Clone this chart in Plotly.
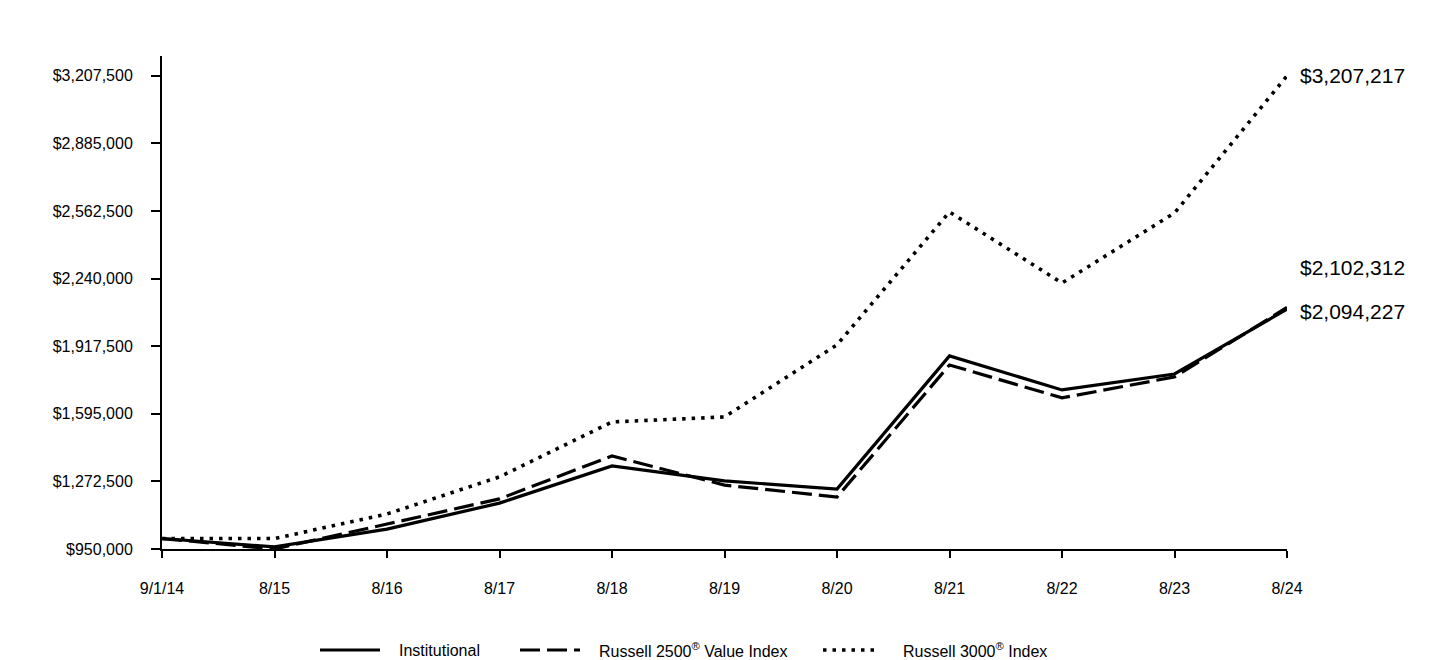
import plotly.graph_objects as go

categories = ["9/1/14", "8/15", "8/16", "8/17", "8/18", "8/19", "8/20", "8/21", "8/22", "8/23", "8/24"]
institutional = [1000000, 960000, 1045000, 1169000, 1346000, 1275000, 1236000, 1871000, 1709000, 1785000, 2094227]
russell2500v = [1000000, 950000, 1069000, 1189000, 1394000, 1255000, 1198000, 1828000, 1671000, 1771000, 2102312]
russell3000 = [1000000, 1000000, 1117000, 1294000, 1556000, 1580000, 1924000, 2558000, 2219000, 2553000, 3207217]
y_ticks = [950000, 1272500, 1595000, 1917500, 2240000, 2562500, 2885000, 3207500]
series_names = ["Institutional", "Russell 2500<sup>®</sup> Value Index", "Russell 3000<sup>®</sup> Index"]

FONT = "Liberation Sans, Arial, sans-serif"
xs = list(range(len(categories)))

styles = [
    dict(color="black", width=3.2, dash="solid"),
    dict(color="black", width=3.2, dash="20px,7px"),
    dict(color="black", width=3.6, dash="3.5px,6px"),
]
data = [institutional, russell2500v, russell3000]

fig = go.Figure()
for name, ys, st in zip(series_names, data, styles):
    fig.add_trace(go.Scatter(x=xs, y=ys, mode="lines", name=name, line=st,
                             showlegend=False, hoverinfo="x+y+name"))

# end labels
fig.add_annotation(x=10, y=russell3000[-1], text="$3,207,217", showarrow=False,
                   xanchor="left", xshift=11, font=dict(size=21, color="black", family=FONT))
fig.add_annotation(x=10, y=russell2500v[-1], text="$2,102,312", showarrow=False,
                   xanchor="left", xshift=11, yshift=40, font=dict(size=21, color="black", family=FONT))
fig.add_annotation(x=10, y=institutional[-1], text="$2,094,227", showarrow=False,
                   xanchor="left", xshift=11, yshift=-2, font=dict(size=21, color="black", family=FONT))

# manual legend (figure pixel coords converted to paper coords)
L0, PW, B0, PH = 154, 1125, 541, 493
def px(xp):
    return (xp - L0) / PW
def py(yp):
    return (B0 - yp) / PH

legend_y = 642
legend_items = [(312, 372, 389), (512, 572, 589), (815, 872, 893)]
for (x0, x1, xt), name, st in zip(legend_items, series_names, styles):
    fig.add_shape(type="line", xref="paper", yref="paper", x0=px(x0), x1=px(x1),
                  y0=py(legend_y), y1=py(legend_y), line=st)
    fig.add_annotation(xref="paper", yref="paper", x=px(xt), y=py(legend_y), text=name,
                       showarrow=False, xanchor="left", yanchor="middle",
                       font=dict(size=16, color="black", family=FONT))

fig.update_layout(
    width=1440, height=660,
    margin=dict(l=154, r=161, t=48, b=119),
    plot_bgcolor="white", paper_bgcolor="white",
    font=dict(family=FONT, color="black", size=16),
    showlegend=False,
)
fig.update_xaxes(range=[0, 10], tickvals=xs, ticktext=categories, showgrid=False, zeroline=False,
                 showline=True, linecolor="black", linewidth=2, ticks="outside", ticklen=7,
                 tickwidth=2, tickcolor="black", ticklabelstandoff=17,
                 tickfont=dict(size=16, color="black", family=FONT))
fig.update_yaxes(range=[950000, 3302000], tickvals=y_ticks,
                 ticktext=["${:,}".format(v) for v in y_ticks], showgrid=False, zeroline=False,
                 showline=True, linecolor="black", linewidth=2, ticks="outside", ticklen=9,
                 tickwidth=2, tickcolor="black", ticklabelstandoff=15,
                 tickfont=dict(size=16, color="black", family=FONT))

fig.write_html("out.html")
